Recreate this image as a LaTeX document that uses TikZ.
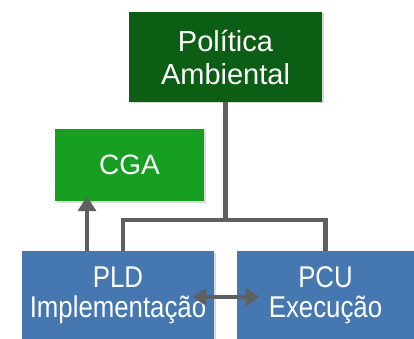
\documentclass[tikz,border=0pt]{standalone}
\usepackage{fontspec}
\setmainfont{Liberation Sans}
\usetikzlibrary{arrows.meta,shadows}

\definecolor{polGreen}{HTML}{0C5E15}
\definecolor{cgaGreen}{HTML}{179F22}
\definecolor{plBlue}{HTML}{4577B0}
\definecolor{linkGray}{HTML}{5F5F5F}

\begin{document}
\begin{tikzpicture}[x=1pt,y=-1pt,
                    boxND/.style={rectangle,
                                  draw=none,
                                  text=white,
                                  align=center,
                                  inner sep=0pt,
                                  drop shadow={opacity=0.3,
                                               shadow xshift=1.5pt,
                                               shadow yshift=-1.5pt}},
                    topFont/.style={font=\fontsize{29}{33}\selectfont},
                    lowFont/.style={font=\addfontfeature{FakeStretch=0.86}\fontsize{30}{30}\selectfont},
                    link/.style={draw=linkGray,
                                 line width=4.5pt},
                    tip/.style={-{Triangle[length=15pt,width=18pt]}},
                    dtip/.style={{Triangle[length=14pt,width=17pt]}-{Triangle[length=14pt,width=17pt]}}]
        \useasboundingbox (0,0) rectangle (414,339);
        \clip (0,0) rectangle (414,339);
        \node[boxND,topFont,fill=polGreen,minimum width=193pt,minimum height=90pt](pol) at (225.5,57)  {Política\\Ambiental};
        \node[boxND,fill=cgaGreen,font=\fontsize{28}{30}\selectfont,
              minimum width=149pt,minimum height=72pt](cga)                          at (129.5,165) {CGA};
        \node[boxND,lowFont,fill=plBlue,minimum width=192pt,minimum height=88pt](pld) at (118,295)   {PLD\\Implementação};
        \node[boxND,lowFont,fill=plBlue,minimum width=177pt,minimum height=88pt](pcu) at (325.5,295) {PCU\\Execução};
        \coordinate (jn) at (226,220);
        \path[link]
            (pol.south) -- (pol.south |- jn)
            ([xshift=5pt]pld.north) |- (jn) -| (pcu.north);
        \draw[link,tip,shorten >=-5pt]
            ([xshift=-31pt]pld.north) -- ([xshift=-31pt]pld.north |- cga.south);
        \draw[link,dtip]
            ([xshift=-22pt,yshift=-2pt]pld.east) -- ([xshift=23pt,yshift=-2pt]pcu.west);
    \end{tikzpicture}
\end{document}
